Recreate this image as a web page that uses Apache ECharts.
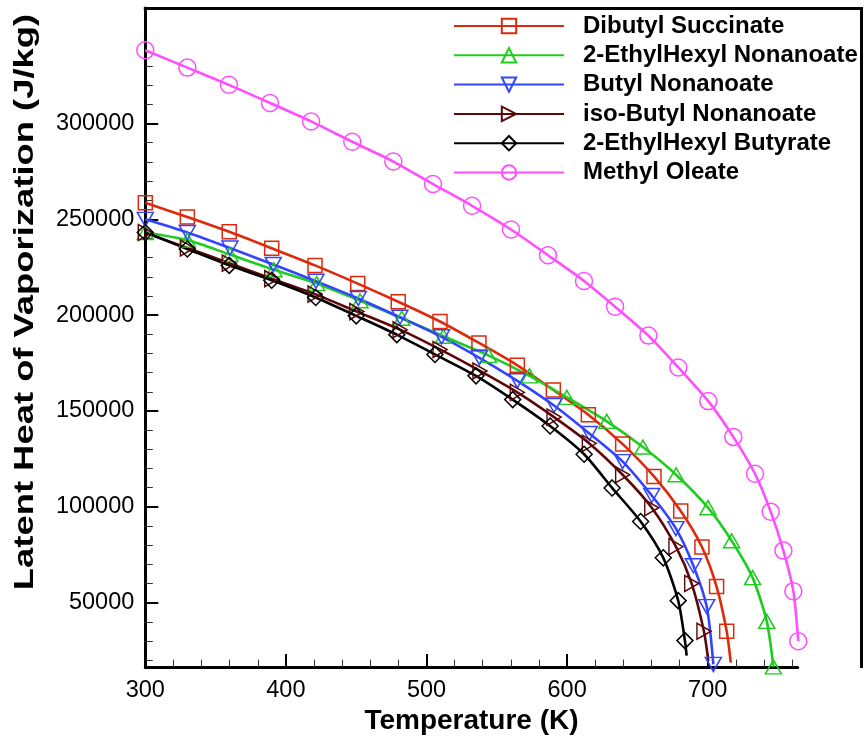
<!DOCTYPE html>
<html><head><meta charset="utf-8">
<script src="https://cdn.jsdelivr.net/npm/echarts@6/dist/echarts.min.js"></script>
<style>html,body{margin:0;padding:0;background:#fff}#c{width:864px;height:740px}</style>
</head><body><div id="c"></div>
<script>
// ---- data ----
const seriesNames = ['Dibutyl Succinate','2-EthylHexyl Nonanoate','Butyl Nonanoate','iso-Butyl Nonanoate','2-EthylHexyl Butyrate','Methyl Oleate'];

const dbsT = [300, 329.9, 359.7, 389.9, 420.7, 451.1, 479.9, 509.6, 537.3, 564.6, 590.2, 615.1, 639.5, 661.8, 680.8, 695.9, 706.3, 713.5, 716.4];
const dbsL = [258600, 251240, 243500, 234900, 225960, 216460, 207020, 196700, 185500, 173840, 160940, 148040, 132720, 115840, 97780, 79050, 58410, 35040, 18680];

const ehnT = [300, 329.9, 360.2, 391.5, 421.9, 452.7, 482.4, 512.0, 544.0, 573.2, 599.8, 628.2, 653.9, 677.5, 700.2, 717.0, 731.9, 742.0, 746.7];
const ehnL = [243140, 239170, 231630, 223690, 216460, 207530, 198400, 188960, 179000, 168320, 157120, 144580, 131170, 116720, 99540, 82300, 63050, 40200, 16500];

const bnT = [300, 329.9, 360.2, 391.0, 421.4, 451.5, 481.1, 510.7, 537.6, 564.6, 590.7, 615.8, 639.5, 660.2, 677.4, 689.8, 699.3, 704.0];
const bnL = [250000, 243140, 235040, 226470, 217700, 208720, 198920, 188700, 177760, 165740, 152840, 138240, 123580, 105880, 88600, 69250, 47940, 17800];

const ibnT = [300, 329.9, 359.7, 389.9, 420.7, 450.4, 481.2, 509.6, 538.0, 564.6, 590.7, 615.8, 639.5, 660.2, 677.4, 688.6, 697.3, 700.4];
const ibnL = [243140, 235040, 227140, 219040, 210990, 201860, 192420, 182100, 170900, 159700, 146800, 133080, 116720, 99540, 79210, 59960, 35040, 19710];

const ehbT = [300, 329.9, 359.7, 389.9, 421.2, 450.0, 478.9, 506.0, 535.2, 561.3, 587.9, 612.1, 632.0, 652.3, 668.4, 679.0, 683.8, 685.0];
const ehbL = [243140, 234520, 225960, 218220, 209240, 199640, 189840, 179520, 168320, 155930, 142160, 127400, 109860, 92310, 73370, 51030, 30190, 22290];

const moT = [300, 329.9, 359.5, 388.7, 417.9, 447.2, 476.4, 504.6, 532.4, 560.1, 586.4, 612.0, 634.1, 657.8, 679.1, 700.4, 718.2, 733.6, 744.8, 753.8, 760.9, 764.4];
const moL = [338240, 329160, 320180, 310730, 301090, 290460, 280140, 268420, 257070, 244690, 231270, 217850, 204440, 189320, 172700, 155160, 136480, 117230, 97470, 77140, 55990, 29880];

// last point of these curves carries no symbol (line end only)
const lineEndWithoutSymbol = [true, false, false, true, true, false];

const xMajorTicks = [300, 400, 500, 600, 700];
const xMinorTicks = [320, 340, 360, 380, 420, 440, 460, 480, 520, 540, 560, 580, 620, 640, 660, 680, 720, 740, 760];
const yMajorTicks = [50000, 100000, 150000, 200000, 250000, 300000];
const yMinorTicks = [20000, 30000, 40000, 60000, 70000, 80000, 90000, 110000, 120000, 130000, 140000,
  160000, 170000, 180000, 190000, 210000, 220000, 230000, 240000, 260000, 270000, 280000, 290000,
  310000, 320000, 330000];

const xMin = 300, xMax = 764;
const yMin = 16360, yMax = 360270;

// ---- styles ----
const colors = ['#dd2a0c', '#1fcc1f', '#3344ff', '#5c0808', '#000000', '#ff4dff'];
const symbols = ['rect', 'triangle', 'triangle', 'triangle', 'diamond', 'circle'];
const symbolRot = [0, 0, 180, -90, 0, 0];
const symbolSizes = [14, [16, 14], [16, 14], [16, 14], 16, 17];

const Ts = [dbsT, ehnT, bnT, ibnT, ehbT, moT];
const Ls = [dbsL, ehnL, bnL, ibnL, ehbL, moL];

const series = seriesNames.map((name, i) => {
  const data = Ts[i].map((t, k) => {
    const item = { value: [t, Ls[i][k]] };
    if (lineEndWithoutSymbol[i] && k === Ts[i].length - 1) item.symbol = 'none';
    return item;
  });
  return {
    type: 'line', name, data,
    xAxisIndex: 0, yAxisIndex: 0,
    symbol: symbols[i], symbolSize: symbolSizes[i], symbolRotate: symbolRot[i],
    showAllSymbol: true,
    smooth: 0.25,
    clip: false,
    lineStyle: { color: colors[i], width: 2.6 },
    itemStyle: { color: 'rgba(255,255,255,0)', borderColor: colors[i], borderWidth: 1.5 },
    emphasis: { disabled: true },
    animation: false
  };
});

const chart = echarts.init(document.getElementById('c'), null, { renderer: 'canvas' });
const font = 'Liberation Sans';
chart.setOption({
  backgroundColor: '#fff',
  animation: false,
  grid: { left: 145.3, right: 66.3, top: 8, bottom: 65.5, containLabel: false },
  legend: {
    orient: 'vertical', left: 448, top: 9,
    itemWidth: 110, itemHeight: 18, itemGap: 5.3,
    data: seriesNames,
    selectedMode: false,
    textStyle: { fontFamily: font, fontWeight: 'bold', fontSize: 24, color: '#000', lineHeight: 18, padding: [0, 0, 0, 14] }
  },
  xAxis: [
    {
      type: 'value', min: xMin, max: xMax, position: 'bottom',
      axisLine: { onZero: false, lineStyle: { color: '#000', width: 3 } },
      axisTick: { inside: true, length: 13, customValues: xMajorTicks, lineStyle: { color: '#000', width: 2 } },
      axisLabel: { customValues: xMajorTicks, fontFamily: font, fontSize: 23.5, color: '#000', margin: 11, formatter: v => String(v) },
      splitLine: { show: false },
      name: 'Temperature (K)', nameLocation: 'middle', nameGap: 28,
      nameTextStyle: { fontFamily: font, fontWeight: 'bold', fontSize: 28, color: '#000' }
    },
    {
      type: 'value', min: xMin, max: xMax, position: 'bottom',
      axisLine: { show: false, onZero: false },
      axisTick: { inside: true, length: 7.5, customValues: xMinorTicks, lineStyle: { color: '#333', width: 1 } },
      axisLabel: { show: false },
      splitLine: { show: false }
    }
  ],
  yAxis: [
    {
      type: 'value', min: yMin, max: yMax, position: 'left',
      axisLine: { onZero: false, lineStyle: { color: '#000', width: 3 } },
      axisTick: { inside: true, length: 13, customValues: yMajorTicks, lineStyle: { color: '#000', width: 2 } },
      axisLabel: { customValues: yMajorTicks, fontFamily: font, fontSize: 23.5, color: '#000', margin: 11, formatter: v => String(v) },
      splitLine: { show: false }
    },
    {
      type: 'value', min: yMin, max: yMax, position: 'left',
      axisLine: { show: false, onZero: false },
      axisTick: { inside: true, length: 7.5, customValues: yMinorTicks, lineStyle: { color: '#333', width: 1 } },
      axisLabel: { show: false },
      splitLine: { show: false }
    }
  ],
  graphic: [
    {
      type: 'polyline', silent: true,
      shape: { points: [[143.8, 8.5], [861.5, 8.5], [861.5, 668]] },
      style: { stroke: '#000', lineWidth: 3, fill: null }
    },
    {
      type: 'text', x: 25, y: 302, rotation: Math.PI / 2, scaleX: 1.3, silent: true,
      style: { text: 'Latent Heat of Vaporization (J/kg)', font: 'bold 28px "Liberation Sans"', fill: '#000', align: 'center', verticalAlign: 'middle' }
    }
  ],
  series
});
</script></body></html>
